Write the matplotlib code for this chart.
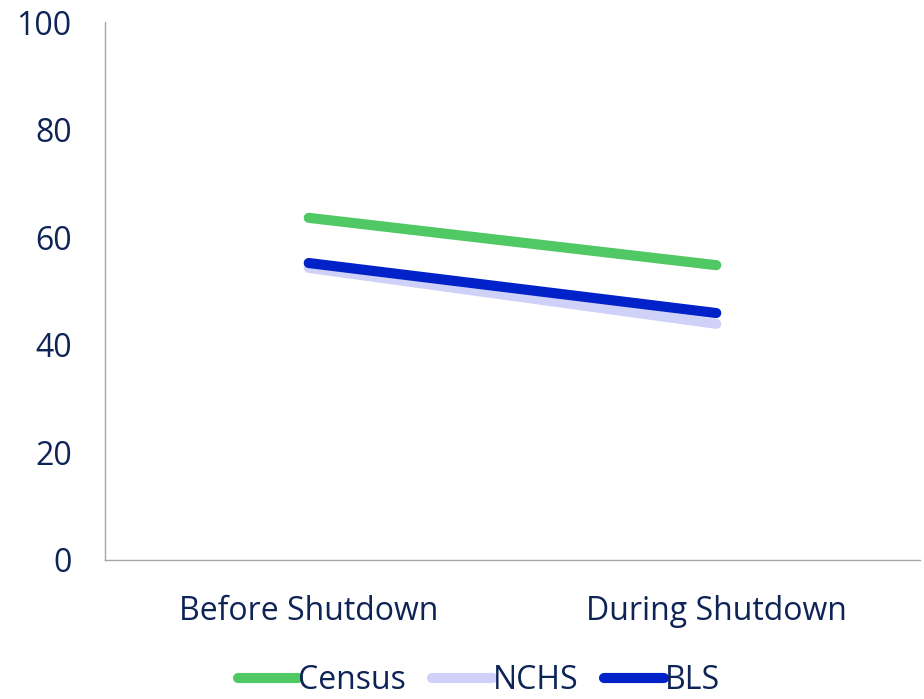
import matplotlib.pyplot as plt

categories = ['Before Shutdown', 'During Shutdown']
census = [63.6, 54.8]
nchs = [54.3, 43.9]
bls = [55.2, 45.9]
yticks = [0, 20, 40, 60, 80, 100]

plt.rcParams['font.family'] = ['Open Sans', 'DejaVu Sans']
text_col = '#0e2356'

fig = plt.figure(figsize=(9.24, 6.99), dpi=100)
ax = fig.add_axes([0.1136, 0.1989, 0.8821, 0.7696])

x = range(len(categories))
ax.plot(x, census, color='#50c864', lw=7.3, solid_capstyle='round', label='Census')
ax.plot(x, nchs, color='#cfd1f8', lw=7.3, solid_capstyle='round', label='NCHS')
ax.plot(x, bls, color='#0022c8', lw=7.3, solid_capstyle='round', label='BLS')

ax.set_xlim(-0.5, 1.5)
ax.set_ylim(0, 100)
ax.set_xticks(list(x))
ax.set_xticklabels(categories)
ax.set_yticks(yticks)
ax.tick_params(length=0, labelsize=23, colors=text_col)
ax.tick_params(axis='y', pad=24)
ax.tick_params(axis='x', pad=25)
for s in ['top', 'right']:
    ax.spines[s].set_visible(False)
for s in ['left', 'bottom']:
    ax.spines[s].set_color('#a6a6a6')
    ax.spines[s].set_linewidth(1)

leg = fig.legend(loc='center', bbox_to_anchor=(0.518, 0.026), ncol=3, frameon=False,
                 fontsize=23, handlelength=1.9, handletextpad=0.0, columnspacing=0.8,
                 borderaxespad=0, borderpad=0)
for t in leg.get_texts():
    t.set_color(text_col)

fig.savefig('out.png', dpi=100)
